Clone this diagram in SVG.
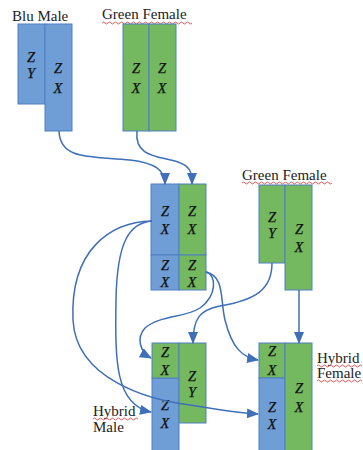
<svg xmlns="http://www.w3.org/2000/svg" width="363" height="450" viewBox="0 0 363 450">
<defs>
<style>
.b{fill:#6f9ed6;stroke:#4f7fbf;stroke-width:1}
.g{fill:#74b960;stroke:#4f7fbf;stroke-width:1}
.l{font-family:"Liberation Serif",serif;font-size:14.5px;font-style:italic;fill:#111;text-anchor:middle;stroke:#111;stroke-width:0.25}
.lab{font-family:"Liberation Serif",serif;font-size:15px;fill:#222}
.sq{fill:none;stroke:#e03030;stroke-width:0.8}
.c{fill:none;stroke:#3f6fb8;stroke-width:1.5}
</style>
<marker id="ah" markerUnits="userSpaceOnUse" markerWidth="12" markerHeight="12" viewBox="0 0 12 12" refX="11" refY="6" orient="auto">
<path d="M0,1 L12,6 L0,11 Z" fill="#3f6fb8"/>
</marker>
</defs>
<rect width="363" height="450" fill="#fff"/>

<g id="blu-male">
<text class="lab" x="12" y="21">Blu Male</text>
<rect class="b" x="18" y="24" width="27" height="80"/>
<rect class="b" x="45" y="24" width="27" height="107"/>
<text class="l" x="31" y="62">Z</text><text class="l" x="31" y="78">Y</text>
<text class="l" x="58" y="73">Z</text><text class="l" x="58" y="93">X</text>
</g>

<g id="green-female-top">
<text class="lab" x="102" y="19">Green Female</text>
<path class="sq" d="M102,23 q1.5,-2 3,0 t3,0 t3,0 t3,0 t3,0 t3,0 t3,0 t3,0 t3,0 t3,0 t3,0 t3,0 t3,0 t3,0 t3,0 t3,0 t3,0 t3,0 t3,0 t3,0 t3,0 t3,0 t3,0 t3,0 t3,0 t3,0 t3,0 t3,0 t3,0 t3,0"/>
<rect class="g" x="123" y="24" width="26" height="107"/>
<rect class="g" x="149" y="24" width="27" height="107"/>
<text class="l" x="136" y="73">Z</text><text class="l" x="136" y="93">X</text>
<text class="l" x="162" y="73">Z</text><text class="l" x="162" y="93">X</text>
</g>

<g id="f1">
<rect class="b" x="151" y="184" width="28" height="71"/>
<rect class="g" x="179" y="184" width="27" height="71"/>
<rect class="b" x="151" y="255" width="28" height="35"/>
<rect class="g" x="179" y="255" width="27" height="35"/>
<text class="l" x="165" y="216">Z</text><text class="l" x="165" y="234">X</text>
<text class="l" x="192" y="216">Z</text><text class="l" x="192" y="234">X</text>
<text class="l" x="165" y="270">Z</text><text class="l" x="165" y="287">X</text>
<text class="l" x="192" y="270">Z</text><text class="l" x="192" y="287">X</text>
</g>

<g id="green-female-right">
<text class="lab" x="242" y="180">Green Female</text>
<path class="sq" d="M242,183 q1.5,-2 3,0 t3,0 t3,0 t3,0 t3,0 t3,0 t3,0 t3,0 t3,0 t3,0 t3,0 t3,0 t3,0 t3,0 t3,0 t3,0 t3,0 t3,0 t3,0 t3,0 t3,0 t3,0 t3,0 t3,0 t3,0 t3,0 t3,0 t3,0 t3,0 t3,0"/>
<rect class="g" x="259" y="185" width="26" height="78"/>
<rect class="g" x="285" y="185" width="27" height="105"/>
<text class="l" x="272" y="222">Z</text><text class="l" x="272" y="238">Y</text>
<text class="l" x="299" y="234">Z</text><text class="l" x="299" y="252">X</text>
</g>

<g id="hybrid-male">
<rect class="b" x="152" y="378" width="27" height="74"/>
<rect class="g" x="152" y="343" width="27" height="35"/>
<rect class="g" x="179" y="343" width="27" height="80"/>
<text class="l" x="165" y="357">Z</text><text class="l" x="165" y="375">X</text>
<text class="l" x="192" y="381">Z</text><text class="l" x="192" y="397">Y</text>
<text class="l" x="165" y="410">Z</text><text class="l" x="165" y="428">X</text>
<text class="lab" x="93" y="416">Hybrid</text>
<path class="sq" d="M93,419 q1.5,-2 3,0 t3,0 t3,0 t3,0 t3,0 t3,0 t3,0 t3,0 t3,0 t3,0 t3,0 t3,0 t3,0 t3,0 t3,0"/>
<text class="lab" x="93" y="432">Male</text>
</g>

<g id="hybrid-female">
<rect class="g" x="259" y="343" width="26" height="35"/>
<rect class="b" x="259" y="378" width="26" height="74"/>
<rect class="g" x="285" y="343" width="27" height="109"/>
<text class="l" x="272" y="356">Z</text><text class="l" x="272" y="375">X</text>
<text class="l" x="272" y="412">Z</text><text class="l" x="272" y="429">X</text>
<text class="l" x="299" y="393">Z</text><text class="l" x="299" y="412">X</text>
<text class="lab" x="317" y="363">Hybrid</text>
<path class="sq" d="M317,366 q1.5,-2 3,0 t3,0 t3,0 t3,0 t3,0 t3,0 t3,0 t3,0 t3,0 t3,0 t3,0 t3,0 t3,0 t3,0 t3,0"/>
<text class="lab" x="317" y="378">Female</text>
<path class="sq" d="M317,381 q1.5,-2 3,0 t3,0 t3,0 t3,0 t3,0 t3,0 t3,0 t3,0 t3,0 t3,0 t3,0 t3,0 t3,0 t3,0 t3,0"/>
</g>

<g id="connectors">
<path class="c" marker-end="url(#ah)" d="M59,131 C60,160 90,156 130,160 C155,163 165,170 165,184"/>
<path class="c" marker-end="url(#ah)" d="M137,131 C134,158 160,156 178,162 C190,166 192,172 192,184"/>
<path class="c" marker-end="url(#ah)" d="M152,221 C130,223 117,240 116,300 C115,360 115,405 151,412"/>
<path class="c" marker-end="url(#ah)" d="M152,221 C110,222 70,250 73,320 C76,380 150,400 190,405 C220,410 240,413 258,414"/>
<path class="c" marker-end="url(#ah)" d="M206,272 C216,274 218,295 200,308 C185,318 160,315 145,328 C136,338 140,352 151,358"/>
<path class="c" marker-end="url(#ah)" d="M206,272 C225,276 220,300 225,320 C232,348 242,357 258,360"/>
<path class="c" marker-end="url(#ah)" d="M272,263 C272,290 255,300 220,306 C200,310 193,318 193,343"/>
<path class="c" marker-end="url(#ah)" d="M299,290 L299,343"/>
</g>
</svg>
